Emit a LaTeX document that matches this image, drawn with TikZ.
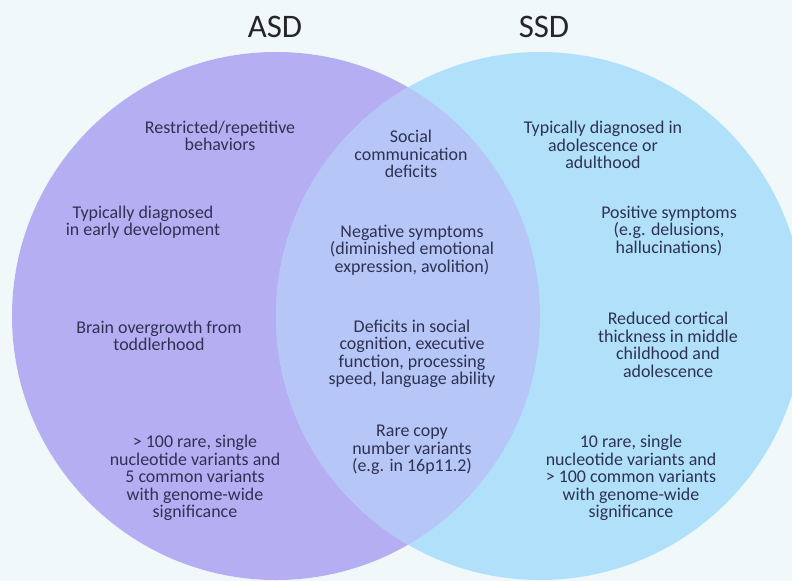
\documentclass[tikz,border=0pt]{standalone}
\usepackage{fontspec}
\setmainfont{Carlito}
\usepackage{tikz}

\definecolor{paper}{RGB}{240,248,250}
\definecolor{asdfill}{RGB}{182,174,242}
\definecolor{ssdfill}{RGB}{176,224,250}
\definecolor{bothfill}{RGB}{182,198,246}
\definecolor{ink}{RGB}{46,50,82}

\begin{document}
\begin{tikzpicture}[x = 1bp, y = 1bp,
    trait/.style = {align = center, text = ink, inner sep = 0pt,
                    font = \fontsize{18}{17.6}\selectfont},
    title/.style = {text = black!85, inner sep = 0pt,
                    font = \fontsize{33}{36}\selectfont}]

  % Background
  \fill[paper] (0,0) rectangle (792,-581);
  \useasboundingbox (0,0) rectangle (792,-581);

  % The two sets and their overlap
  \fill[asdfill] (276,-316) circle (264);
  \fill[ssdfill] (540,-316) circle (264);
  \begin{scope}
    \clip (276,-316) circle (264);
    \fill[bothfill] (540,-316) circle (264);
  \end{scope}

  % Titles
  \node[title] (asd) at (275, -27) {ASD};
  \node[title] (ssd) at (544, -27) {SSD};

  % ASD only
  \node[trait] (asdRepetitive) at (220, -136) {Restricted/repetitive\\behaviors};
  \node[trait] (asdOnset)      at (143, -222) {Typically diagnosed\\in early development};
  \node[trait] (asdBrain)      at (159, -336) {Brain overgrowth from\\toddlerhood};
  \node[trait] (asdGenes)      at (195, -478) {> 100 rare, single\\nucleotide variants and\\5 common variants\\with genome-wide\\significance};

  % Shared
  \node[trait] (bothSocial)    at (411, -154) {Social\\communication\\deficits};
  \node[trait] (bothNegative)  at (412, -250) {Negative symptoms\\(diminished emotional\\expression, avolition)};
  \node[trait] (bothCognition) at (412, -354) {Deficits in social\\cognition, executive\\function, processing\\speed, language ability};
  \node[trait] (bothCopy)      at (412, -450) {Rare copy\\number variants\\(e.g. in 16p11.2)};

  % SSD only
  \node[trait] (ssdOnset)      at (603, -145) {Typically diagnosed in\\adolescence or\\adulthood};
  \node[trait] (ssdPositive)   at (669, -231) {Positive symptoms\\(e.g. delusions,\\hallucinations)};
  \node[trait] (ssdCortex)     at (668, -345) {Reduced cortical\\thickness in middle\\childhood and\\adolescence};
  \node[trait] (ssdGenes)      at (631, -478) {10 rare, single\\nucleotide variants and\\> 100 common variants\\with genome-wide\\significance};

\end{tikzpicture}
\end{document}
